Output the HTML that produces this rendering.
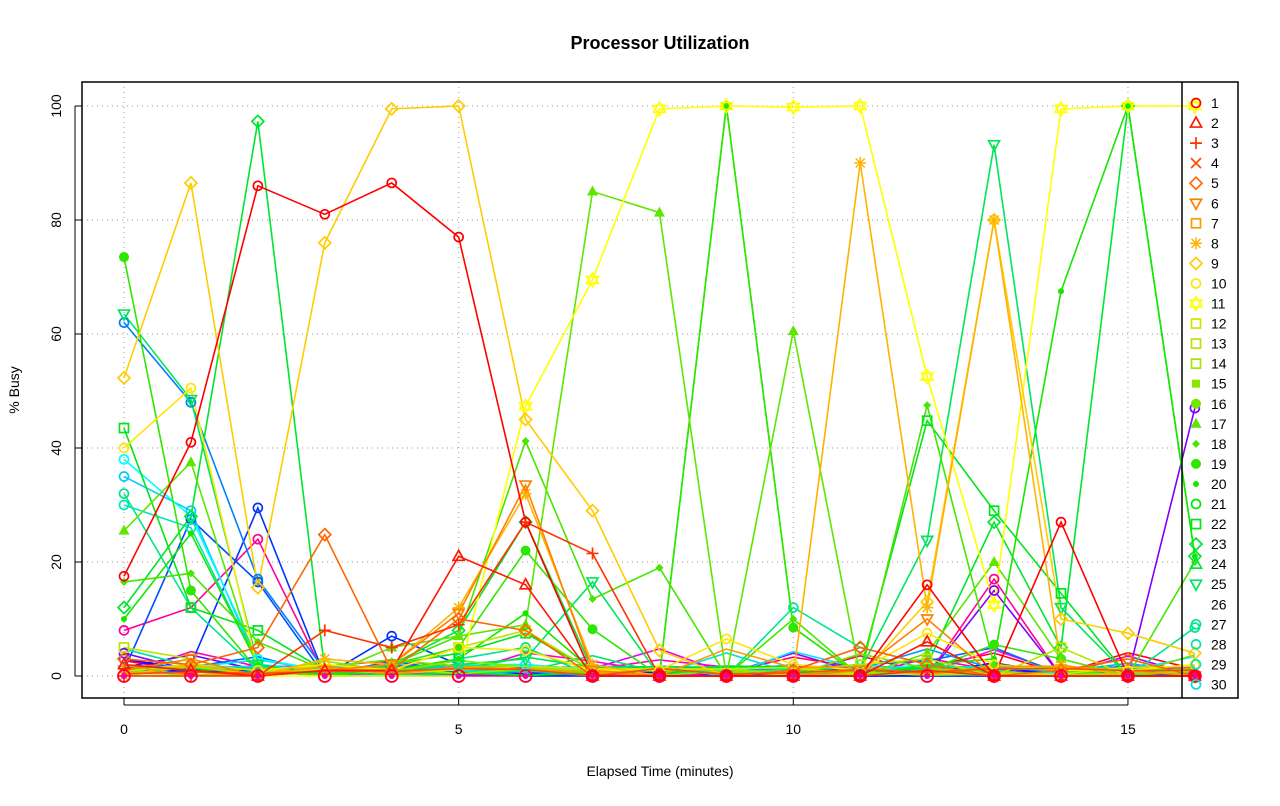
<!DOCTYPE html>
<html><head><meta charset="utf-8"><style>
body{margin:0;background:#fff;}
svg text{font-family:"Liberation Sans",sans-serif;}
</style></head><body>
<svg id="s" width="1280" height="801" xmlns="http://www.w3.org/2000/svg">
<rect width="1280" height="801" fill="#fff"/>
<text x="660" y="49" font-size="18" font-weight="bold" text-anchor="middle">Processor Utilization</text>
<text x="660" y="776" font-size="14" text-anchor="middle">Elapsed Time (minutes)</text>
<text transform="translate(19,390) rotate(-90)" font-size="14" text-anchor="middle">% Busy</text>
<g id="grid" stroke="#bbb" stroke-dasharray="1,4" stroke-width="1.5"></g>
<g id="lines"></g>
<g id="marks"></g>
<rect x="82" y="82" width="1156" height="616" fill="none" stroke="#000" stroke-width="1.5"/>
<line x1="1182" y1="82" x2="1182" y2="698" stroke="#000" stroke-width="1.5"/>
<g id="axes" font-size="14"></g>
<g id="legend" font-size="14"></g>
</svg>
<script>
const NS="http://www.w3.org/2000/svg";
const X=t=>124+66.93*t, Y=v=>676-5.7*v;
function el(p,n,a,txt){const e=document.createElementNS(NS,n);for(const k in a)e.setAttribute(k,a[k]);if(txt!==undefined)e.textContent=txt;document.getElementById(p).appendChild(e);return e;}
[0,5,10,15].forEach(t=>{el('grid','line',{x1:X(t),y1:82,x2:X(t),y2:698});});
[0,20,40,60,80,100].forEach(v=>{el('grid','line',{x1:82,y1:Y(v),x2:1182,y2:Y(v)});});
[0,5,10,15].forEach(t=>{el('axes','line',{x1:X(t),y1:698,x2:X(t),y2:705,stroke:'#000'});el('axes','text',{x:X(t),y:734,'text-anchor':'middle'},t);});
el('axes','line',{x1:X(0),y1:705,x2:X(15),y2:705,stroke:'#000'});
[0,20,40,60,80,100].forEach(v=>{el('axes','line',{x1:75,y1:Y(v),x2:82,y2:Y(v),stroke:'#000'});el('axes','text',{transform:`translate(61,${Y(v)}) rotate(-90)`,'text-anchor':'middle'},v);});
el('axes','line',{x1:75,y1:Y(0),x2:75,y2:Y(100),stroke:'#000'});
const col=i=>`hsl(${((i-1)*6)%360},100%,${(i>=12&&i<=30)?45:50}%)`;
const D={
1:[17.5,41,86,81,86.5,77,27,0,0,0,0,0,16,0,27,0,0],
2:[2,1,0,1,1,21,16,0,0,0,0,0,6,0,0,0,0],
3:[0,0,0,8,5,9,27,21.5,0,0,0,0,1,0,0,0,0],
5:[3,2,5,24.8,1,10,8,0,0,0,1,5,2,0,1,3,0],
6:[1,3,0,1,2,11,33.5,1,0,0,0,1,10,0,0,0,0],
8:[0,2,0,3,2,12,32,2,0,0,0,90,12,80,2,0,0],
9:[52.3,86.5,15.5,76,99.5,100,45,29,4.5,0,0,0,13,80,10,7.5,4],
10:[40,50.5,1,2,1,5,4.5,1,1,6.5,2,1,7.5,2,1,1,2],
11:[0,0,0,0,0,0,47.3,69.5,99.5,100,99.8,100,52.5,12.5,99.5,100,100],
13:[5,3,0,2,1,5,8,1,0,0,1,2,3,0,5,0,0],
17:[25.5,37.5,1,0,5,7,9,85,81.3,0,60.5,0,4,20,3,0,1],
18:[16.5,18,6,1,2,7,41.2,13.5,19,0,10,0,47.5,2,1,0,20],
19:[73.5,15,1,0,2,5,22,8.2,0,100,8.5,0,1,5.5,3,0,0],
20:[10,25,2,0,1,3,11,1,0,100,8.5,0,2,3,67.5,100,21],
22:[43.5,12,8,1,2,4,7.5,1,0,0,1,1,44.8,29,14.5,0,0],
23:[12,28,97.3,1,2,8,27,1,0,0,0,0,2,27,5,100,21],
25:[63.5,48.5,2,0,1,2,3,16.5,0,0,0,1,23.8,93.2,12,0,0],
27:[32,12,1,0,0,3,5,0,0,0,12,5,2,1,0,0,8.5],
29:[30,26,2,0,1,2,1,0,0,0,1,2,1,0,0,0,0],
31:[38,28,3,1,1,2,2,1,1,1,1,1,2,1,0,0,0],
33:[35,29,2,1,1,1,1,1,1,1,2,1,2,1,0,0,0],
36:[62,48,17,1,2,1,2,1,1,1,1,1,1,1,0,0,0],
38:[1,27.5,16.5,0,1,2,1,0,0,0,0,0,1,0,0,0,0],
39:[0,2,29.5,0,7,2,0,0,0,0,0,0,0,0,0,0,0],
42:[3,1,0,1,2,1,2,0,0,0,0,0,0,0,0,0,0],
46:[4,1,0,1,1,1,1,0,0,0,0,0,0,15,0,0,47],
55:[8,12,24,0,0,0,0,0,0,0,0,0,0,17,0,0,0]
};
let seed=3;const rnd=()=>{seed=(seed*9301+49297)%233280;return seed/233280;};
const filler={};
for(let i=1;i<=60;i++){if(!D[i]){filler[i]=1;D[i]=[];for(let t=0;t<17;t++)D[i].push(rnd()<0.1?rnd()*5:rnd()*1.8);}}
const shapes=['o','tri','plus','x','dia','dtri','sq','ast','dia','o','star','sq','sq','sq','fsq','fo','ftri','fdia','fo','dot','o','sq','dia','tri','dtri','','o','o','o','o'];
function mark(g,sh,x,y,c){
 switch(sh){
 case 'o':el(g,'circle',{cx:x,cy:y,r:4.5,fill:'none',stroke:c,'stroke-width':1.7});break;
 case 'fo':el(g,'circle',{cx:x,cy:y,r:5,fill:c});break;
 case 'dot':el(g,'circle',{cx:x,cy:y,r:3,fill:c});break;
 case 'tri':el(g,'polygon',{points:`${x},${y-6} ${x-5.5},${y+4} ${x+5.5},${y+4}`,fill:'none',stroke:c,'stroke-width':1.7});break;
 case 'ftri':el(g,'polygon',{points:`${x},${y-6} ${x-5.5},${y+4} ${x+5.5},${y+4}`,fill:c});break;
 case 'dtri':el(g,'polygon',{points:`${x},${y+6} ${x-5.5},${y-4} ${x+5.5},${y-4}`,fill:'none',stroke:c,'stroke-width':1.7});break;
 case 'plus':el(g,'path',{d:`M${x-6},${y}h12M${x},${y-6}v12`,stroke:c,'stroke-width':1.7});break;
 case 'x':el(g,'path',{d:`M${x-5},${y-5}l10,10M${x-5},${y+5}l10,-10`,stroke:c,'stroke-width':1.7});break;
 case 'ast':el(g,'path',{d:`M${x-6},${y}h12M${x},${y-6}v12M${x-4.5},${y-4.5}l9,9M${x-4.5},${y+4.5}l9,-9`,stroke:c,'stroke-width':1.5});break;
 case 'dia':el(g,'polygon',{points:`${x},${y-6} ${x+6},${y} ${x},${y+6} ${x-6},${y}`,fill:'none',stroke:c,'stroke-width':1.7});break;
 case 'fdia':el(g,'polygon',{points:`${x},${y-4} ${x+4},${y} ${x},${y+4} ${x-4},${y}`,fill:c});break;
 case 'sq':el(g,'rect',{x:x-4.5,y:y-4.5,width:9,height:9,fill:'none',stroke:c,'stroke-width':1.7});break;
 case 'fsq':el(g,'rect',{x:x-4,y:y-4,width:8,height:8,fill:c});break;
 case 'star':el(g,'polygon',{points:`${x},${y-7} ${x-6},${y+3.5} ${x+6},${y+3.5}`,fill:'none',stroke:c,'stroke-width':1.5});el(g,'polygon',{points:`${x},${y+7} ${x-6},${y-3.5} ${x+6},${y-3.5}`,fill:'none',stroke:c,'stroke-width':1.5});break;
 }
}
const order=Object.keys(D).map(Number).sort((a,b)=>b-a);
order.forEach(i=>{
 el('lines','polyline',{points:D[i].map((y,t)=>X(t)+','+Y(y)).join(' '),fill:'none',stroke:col(i),'stroke-width':1.6});
});
order.forEach(i=>{
 if(filler[i])return;
 const c=col(i),v=D[i];const sh=i<=30?shapes[i-1]:'o';
 v.forEach((y,t)=>{if(y<1.5&&i>10)return; mark('marks',sh,X(t),Y(y),c);});
});
for(let t=0;t<17;t++){el('marks','circle',{cx:X(t),cy:Y(0),r:6,fill:'none',stroke:'#f03',"stroke-width":1.8});el('marks','circle',{cx:X(t),cy:Y(0),r:3,fill:'#e0a'});}
for(let i=1;i<=30;i++){const y=103+20.05*(i-1);
 if(shapes[i-1])mark('legend',shapes[i-1],1196,y,col(i));
 el('legend','text',{x:1211,y:y+5},i);}
</script>
</body></html>
